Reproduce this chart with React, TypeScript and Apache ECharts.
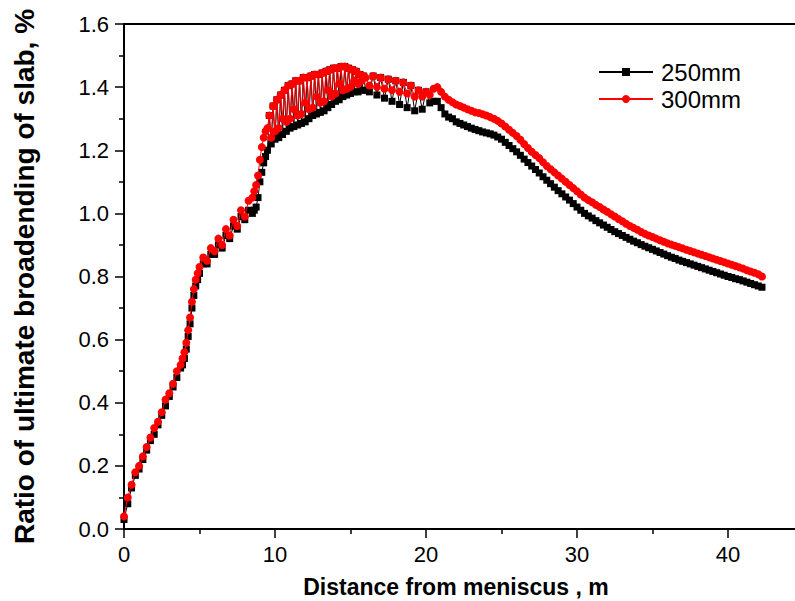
import React, { useEffect, useRef } from 'react';
import * as echarts from 'echarts';

// Distance from meniscus (m)
const distance = [
  0, 0.25, 0.5, 0.75, 1, 1.25, 1.5, 1.75, 2, 2.25, 2.5, 2.75, 3, 3.25, 3.5, 3.75,
  3.875, 4, 4.125, 4.25, 4.375, 4.5, 4.625, 4.75, 4.875, 5,
  5.25, 5.5, 5.75, 6, 6.25, 6.5, 6.75, 7, 7.25, 7.5, 7.75, 8, 8.25, 8.5,
  8.625, 8.75, 8.875, 9, 9.125, 9.25, 9.375, 9.5,
  9.625, 9.75, 9.875, 10, 10.125, 10.25, 10.375, 10.5, 10.625, 10.75, 10.875, 11, 11.125, 11.25, 11.375, 11.5,
  11.625, 11.75, 11.875, 12, 12.125, 12.25, 12.375, 12.5, 12.625, 12.75, 12.875, 13, 13.125, 13.25, 13.375, 13.5,
  13.625, 13.75, 13.875, 14, 14.125, 14.25, 14.375, 14.5, 14.625, 14.75, 14.875, 15, 15.125, 15.25, 15.375, 15.5,
  15.625, 15.75, 15.875, 16,
  16.25, 16.5, 16.75, 17, 17.25, 17.5, 17.75, 18, 18.25, 18.5, 18.75, 19, 19.25, 19.5, 19.75, 20, 20.25, 20.5, 20.75, 21,
  21.25, 21.5, 21.75, 22, 22.25, 22.5, 22.75, 23, 23.25, 23.5, 23.75, 24, 24.25, 24.5, 24.75, 25, 25.25, 25.5, 25.75, 26,
  26.25, 26.5, 26.75, 27, 27.25, 27.5, 27.75, 28, 28.25, 28.5, 28.75, 29, 29.25, 29.5, 29.75, 30, 30.25, 30.5, 30.75, 31,
  31.25, 31.5, 31.75, 32, 32.25, 32.5, 32.75, 33, 33.25, 33.5, 33.75, 34, 34.25, 34.5, 34.75, 35, 35.25, 35.5, 35.75, 36,
  36.25, 36.5, 36.75, 37, 37.25, 37.5, 37.75, 38, 38.25, 38.5, 38.75, 39, 39.25, 39.5, 39.75, 40, 40.25, 40.5, 40.75, 41,
  41.25, 41.5, 41.75, 42, 42.25,
];

// 250mm slab (black squares)
const ratio250 = [
  0.03, 0.08, 0.13, 0.17, 0.19, 0.22, 0.25, 0.28, 0.30, 0.33, 0.36, 0.39, 0.42, 0.45, 0.48, 0.51,
  0.52, 0.54, 0.57, 0.61, 0.65, 0.70, 0.74, 0.77, 0.79, 0.81,
  0.84, 0.84, 0.87, 0.87, 0.90, 0.89, 0.93, 0.92, 0.96, 0.95, 0.99, 0.98, 1.01, 1.00,
  1.01, 1.02, 1.05, 1.10, 1.13, 1.16, 1.18, 1.20,
  1.31, 1.22, 1.34, 1.235, 1.36, 1.24, 1.375, 1.25, 1.39, 1.26, 1.405, 1.27, 1.41, 1.275, 1.42, 1.28,
  1.42, 1.285, 1.43, 1.29, 1.43, 1.30, 1.435, 1.31, 1.44, 1.315, 1.44, 1.32, 1.445, 1.325, 1.45, 1.335,
  1.455, 1.345, 1.46, 1.355, 1.46, 1.36, 1.465, 1.37, 1.465, 1.375, 1.46, 1.38, 1.455, 1.385, 1.45, 1.385,
  1.44, 1.39, 1.435, 1.39,
  1.385, 1.435, 1.375, 1.43, 1.365, 1.425, 1.355, 1.42, 1.345, 1.415, 1.335, 1.405, 1.325, 1.39, 1.33, 1.385, 1.35, 1.355, 1.355, 1.335,
  1.315, 1.305, 1.30, 1.29, 1.285, 1.28, 1.275, 1.27, 1.266, 1.262, 1.258, 1.255, 1.252, 1.248, 1.242, 1.235, 1.225, 1.215, 1.205, 1.195,
  1.184, 1.172, 1.161, 1.15, 1.139, 1.128, 1.116, 1.105, 1.094, 1.083, 1.072, 1.062, 1.052, 1.042, 1.031, 1.02, 1.01, 1.00, 0.992, 0.985,
  0.977, 0.97, 0.963, 0.956, 0.949, 0.942, 0.936, 0.93, 0.924, 0.918, 0.912, 0.907, 0.901, 0.896, 0.891, 0.886, 0.881, 0.876, 0.871, 0.866,
  0.861, 0.857, 0.852, 0.848, 0.844, 0.84, 0.836, 0.832, 0.828, 0.824, 0.82, 0.816, 0.812, 0.808, 0.804, 0.80, 0.797, 0.793, 0.79, 0.786,
  0.782, 0.778, 0.774, 0.77, 0.766,
];

// 300mm slab (red circles)
const ratio300 = [
  0.04, 0.10, 0.14, 0.18, 0.20, 0.23, 0.26, 0.29, 0.32, 0.34, 0.37, 0.41, 0.43, 0.46, 0.50, 0.52,
  0.54, 0.56, 0.59, 0.63, 0.67, 0.72, 0.76, 0.79, 0.81, 0.83,
  0.86, 0.85, 0.89, 0.88, 0.92, 0.90, 0.95, 0.93, 0.98, 0.96, 1.01, 0.99, 1.04, 1.05,
  1.07, 1.09, 1.12, 1.17, 1.21, 1.24, 1.26, 1.27,
  1.31, 1.24, 1.34, 1.26, 1.36, 1.27, 1.375, 1.30, 1.39, 1.29, 1.405, 1.30, 1.41, 1.33, 1.42, 1.31,
  1.42, 1.315, 1.43, 1.35, 1.43, 1.33, 1.435, 1.335, 1.44, 1.37, 1.44, 1.35, 1.445, 1.355, 1.45, 1.39,
  1.455, 1.37, 1.46, 1.38, 1.46, 1.41, 1.465, 1.39, 1.465, 1.395, 1.46, 1.40, 1.455, 1.42, 1.45, 1.41,
  1.44, 1.42, 1.435, 1.43,
  1.405, 1.435, 1.40, 1.43, 1.395, 1.425, 1.39, 1.42, 1.385, 1.415, 1.38, 1.405, 1.37, 1.39, 1.37, 1.385, 1.375, 1.395, 1.40, 1.385,
  1.37, 1.36, 1.352, 1.345, 1.34, 1.335, 1.33, 1.325, 1.32, 1.318, 1.314, 1.31, 1.305, 1.30, 1.293, 1.285, 1.275, 1.265, 1.255, 1.245,
  1.233, 1.22, 1.207, 1.195, 1.185, 1.175, 1.162, 1.15, 1.14, 1.13, 1.12, 1.11, 1.10, 1.09, 1.08, 1.07, 1.06, 1.05, 1.042, 1.035,
  1.027, 1.02, 1.012, 1.005, 0.997, 0.99, 0.982, 0.975, 0.967, 0.96, 0.954, 0.948, 0.941, 0.935, 0.93, 0.925, 0.92, 0.915, 0.91, 0.905,
  0.901, 0.897, 0.893, 0.889, 0.885, 0.881, 0.877, 0.873, 0.869, 0.865, 0.861, 0.857, 0.853, 0.849, 0.845, 0.841, 0.837, 0.833, 0.829, 0.825,
  0.82, 0.816, 0.812, 0.807, 0.80,
];

const seriesNames = ['250mm', '300mm'];
const xTitle = 'Distance from meniscus , m';
const yTitle = 'Ratio of ultimate broadending of slab, %';

export default function App() {
  const ref = useRef<HTMLDivElement>(null);

  useEffect(() => {
    if (!ref.current) return;
    const chart = echarts.init(ref.current, null, { renderer: 'svg' });
    const font = 'Arial, "Liberation Sans", sans-serif';
    const d250 = distance.map((x, i) => [x, ratio250[i]]);
    const d300 = distance.map((x, i) => [x, ratio300[i]]);

    chart.setOption({
      animation: false,
      backgroundColor: '#ffffff',
      grid: {
        left: 124,
        top: 24,
        width: 755,
        height: 505,
        show: true,
        borderColor: '#000',
        borderWidth: 2,
        containLabel: false,
        outerBoundsMode: 'none',
      },
      legend: {
        orient: 'vertical',
        left: 593,
        top: 55,
        itemWidth: 54,
        itemHeight: 10,
        itemGap: 3,
        data: seriesNames,
        textStyle: {
          fontFamily: font,
          fontSize: 24,
          lineHeight: 24,
          color: '#000',
          padding: [0, 0, 0, 3],
        },
      },
      xAxis: {
        type: 'value',
        min: 0,
        max: 50,
        interval: 10,
        name: xTitle,
        nameLocation: 'middle',
        nameGap: 46,
        nameTextStyle: {
          fontFamily: font,
          fontSize: 23,
          fontWeight: 'bold',
          color: '#000',
          padding: [0, 91, 0, 0],
        },
        axisLine: { show: true, onZero: false, lineStyle: { color: '#000', width: 2 } },
        axisTick: { show: true, inside: false, length: 9, lineStyle: { color: '#000', width: 1.5 } },
        minorTick: { show: true, splitNumber: 2, length: 5, lineStyle: { color: '#000', width: 1.5 } },
        axisLabel: { fontFamily: font, fontSize: 22, color: '#000', margin: 14, showMaxLabel: false },
        splitLine: { show: false },
      },
      yAxis: {
        type: 'value',
        min: 0,
        max: 1.6,
        interval: 0.2,
        name: yTitle,
        nameLocation: 'middle',
        nameGap: 86,
        nameTextStyle: {
          fontFamily: font,
          fontSize: 28,
          fontWeight: 'bold',
          color: '#000',
        },
        axisLine: { show: true, onZero: false, lineStyle: { color: '#000', width: 2 } },
        axisTick: { show: true, inside: false, length: 9, lineStyle: { color: '#000', width: 1.5 } },
        minorTick: { show: true, splitNumber: 2, length: 5, lineStyle: { color: '#000', width: 1.5 } },
        axisLabel: {
          fontFamily: font,
          fontSize: 22,
          color: '#000',
          margin: 15,
          formatter: (v: number) => v.toFixed(1),
        },
        splitLine: { show: false },
      },
      series: [
        {
          name: seriesNames[0],
          type: 'line',
          data: d250,
          symbol: 'rect',
          symbolSize: 7,
          showAllSymbol: true,
          itemStyle: { color: '#000' },
          lineStyle: { color: '#000', width: 1 },
          silent: true,
          z: 2,
        },
        {
          name: seriesNames[1],
          type: 'line',
          data: d300,
          symbol: 'circle',
          symbolSize: 8,
          showAllSymbol: true,
          itemStyle: { color: '#ff0000' },
          lineStyle: { color: '#ff0000', width: 1 },
          silent: true,
          z: 3,
        },
      ],
    });

    return () => chart.dispose();
  }, []);

  return (
    <div
      ref={ref}
      style={{ position: 'fixed', left: 0, top: 0, width: 795, height: 601, background: '#fff' }}
    />
  );
}
